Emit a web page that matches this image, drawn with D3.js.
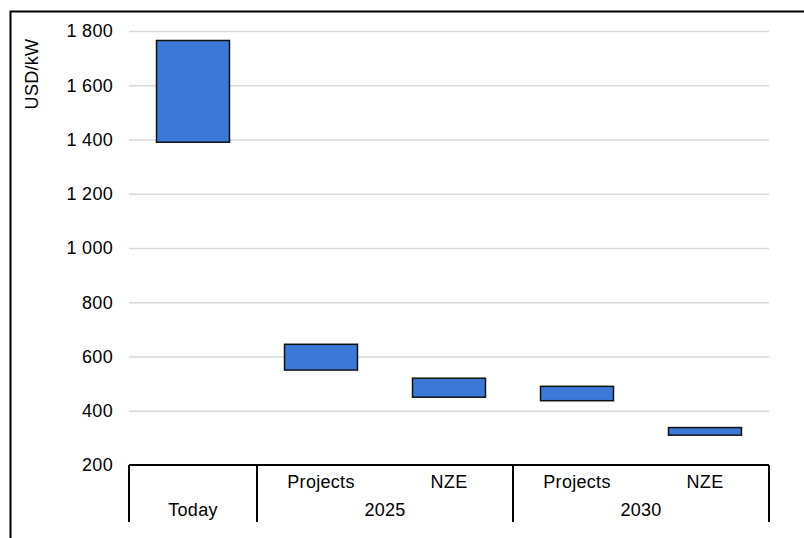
<!DOCTYPE html>
<html>
<head>
<meta charset="utf-8">
<script src="https://cdn.jsdelivr.net/npm/d3@7"></script>
<style>
	body { margin: 0; background: #fff; }
	svg { display: block; font-family: "Liberation Sans", Arial, sans-serif; }
</style>
</head>
<body>
<script>
	// values (USD/kW)
	var categories = ["Today", "Projects", "NZE", "Projects", "NZE"];
	var groups = ["Today", "2025", "2025", "2030", "2030"];
	var lows = [1390, 550, 450, 437, 310];
	var highs = [1765, 645, 520, 490, 338];
	var yTicks = [200, 400, 600, 800, 1000, 1200, 1400, 1600, 1800];

	var w = 804;
	var h = 538;
	var margin = {top: 31, left: 129, right: 35, bottom: 73};
	var fs = "18px";

	var svg = d3.select("body")
				.append("svg")
				.attr("width", w)
				.attr("height", h);

	// frame (top and left edges)
	svg.append("path")
		.attr("d", "M10.5," + h + "V11.5H" + w)
		.attr("fill", "none")
		.attr("stroke", "#000")
		.attr("stroke-width", 2);

	var x = d3.scaleBand()
		.domain(d3.range(categories.length))
		.range([margin.left, w - margin.right])
		.padding(0);

	var y = d3.scaleLinear()
		.domain([200, 1800])
		.range([h - margin.bottom, margin.top]);

	var fmt = d3.formatLocale({decimal: ".", thousands: " ", grouping: [3], currency: ["", ""]}).format(",");

	// gridlines
	svg.append("g")
		.attr("transform", "translate(" + margin.left + ",0)")
		.call(d3.axisLeft(y).tickValues(yTicks.slice(1)).tickSize(-(w - margin.left - margin.right)).tickFormat(""))
		.call(function(g) {
			g.select(".domain").remove();
			g.selectAll("line").attr("stroke", "#d9d9d9").attr("stroke-width", 1.5);
		});

	// y labels
	svg.append("g")
		.attr("transform", "translate(" + margin.left + ",0)")
		.call(d3.axisLeft(y).tickValues(yTicks).tickSize(0).tickPadding(16).tickFormat(fmt))
		.call(function(g) {
			g.select(".domain").remove();
			g.selectAll("text")
				.attr("font-size", fs)
				.attr("letter-spacing", "0.3px")
				.attr("fill", "#000")
				.attr("font-family", "Liberation Sans, Arial, sans-serif");
		});

	svg.append("text")
		.attr("transform", "translate(38,74) rotate(-90)")
		.attr("text-anchor", "middle")
		.attr("font-size", fs)
		.attr("letter-spacing", "0.3px")
		.text("USD/kW");

	// floating bars
	var barW = x.bandwidth() * 0.57;
	svg.selectAll("rect.bar")
		.data(categories)
		.enter()
		.append("rect")
		.attr("class", "bar")
		.attr("x", function(d, i) { return x(i) + (x.bandwidth() - barW) / 2; })
		.attr("y", function(d, i) { return y(highs[i]); })
		.attr("width", barW)
		.attr("height", function(d, i) { return y(lows[i]) - y(highs[i]); })
		.attr("fill", "#3c78d8")
		.attr("stroke", "#111")
		.attr("stroke-width", 1.5);

	// category axis
	var base = y(200);
	var axisBottom = h - 16;
	svg.append("line")
		.attr("x1", x(0)).attr("x2", x(categories.length - 1) + x.bandwidth())
		.attr("y1", base).attr("y2", base)
		.attr("stroke", "#000").attr("stroke-width", 2);

	// group separators
	var seps = [0];
	groups.forEach(function(g, i) {
		if (i > 0 && g !== groups[i - 1]) seps.push(i);
	});
	var edges = seps.map(function(i) { return x(i); });
	edges.push(x(categories.length - 1) + x.bandwidth());

	svg.selectAll("line.sep")
		.data(edges)
		.enter()
		.append("line")
		.attr("class", "sep")
		.attr("x1", function(d) { return d; })
		.attr("x2", function(d) { return d; })
		.attr("y1", base)
		.attr("y2", axisBottom)
		.attr("stroke", "#000")
		.attr("stroke-width", 2);

	// inner labels (sub categories)
	var subs = categories.map(function(d, i) { return {name: d, i: i}; })
		.filter(function(d) { return d.name !== groups[d.i]; });

	svg.selectAll("text.cat")
		.data(subs)
		.enter()
		.append("text")
		.attr("class", "cat")
		.attr("x", function(d) { return x(d.i) + x.bandwidth() / 2; })
		.attr("y", base + 23)
		.attr("text-anchor", "middle")
		.attr("font-size", fs)
		.attr("letter-spacing", "0.3px")
		.text(function(d) { return d.name; });

	// group labels
	var groupInfo = seps.map(function(s, k) {
		var e = k + 1 < seps.length ? seps[k + 1] : categories.length;
		return {name: groups[s], x0: x(s), x1: x(e - 1) + x.bandwidth()};
	});

	svg.selectAll("text.grp")
		.data(groupInfo)
		.enter()
		.append("text")
		.attr("class", "grp")
		.attr("x", function(d) { return (d.x0 + d.x1) / 2; })
		.attr("y", base + 51)
		.attr("text-anchor", "middle")
		.attr("font-size", fs)
		.attr("letter-spacing", "0.3px")
		.text(function(d) { return d.name; });
</script>
</body>
</html>
